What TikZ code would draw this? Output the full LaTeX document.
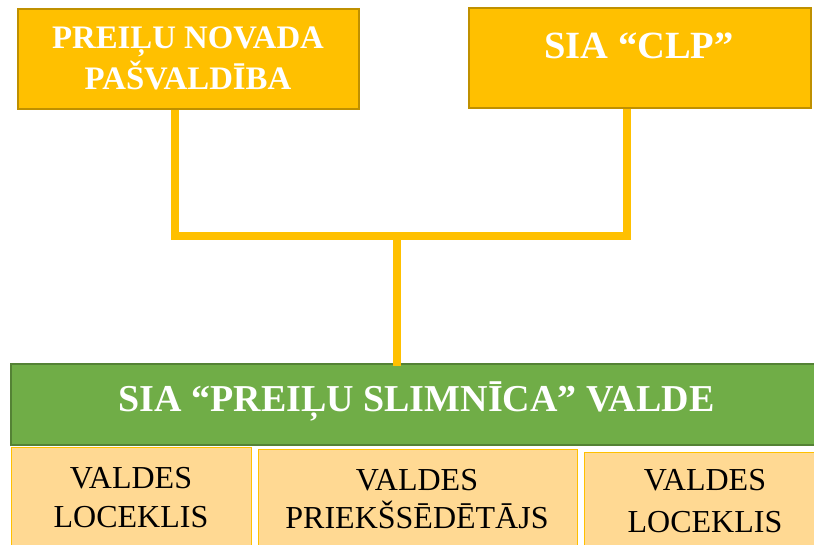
\documentclass[tikz,border=0pt]{standalone}
\usepackage{fontspec}
\setmainfont{Liberation Serif}
\definecolor{gold}{HTML}{FFC000}
\definecolor{golddark}{HTML}{BF9000}
\definecolor{grn}{HTML}{70AD47}
\definecolor{grndark}{HTML}{548235}
\definecolor{lightor}{HTML}{FFD993}
\tikzset{
  topbox/.style={draw=golddark, fill=gold, line width=1.5pt, minimum width=341pt, minimum height=100pt, inner sep=0pt, anchor=north west},
  greenbox/.style={draw=grndark, fill=grn, line width=2pt, anchor=north west, inner sep=0pt},
  lowbox/.style={draw=gold, fill=lightor, line width=1pt, anchor=north west, inner sep=0pt},
  conn/.style={draw=gold, line width=7.5pt},
  wtxt/.style={text=white, font=\bfseries, anchor=base, inner sep=0pt},
  btxt/.style={text=black, anchor=base, inner sep=0pt, font=\fontsize{32}{38}\selectfont},
}
\begin{document}
\begin{tikzpicture}[x=1pt,y=-1pt]
\useasboundingbox (0,0) rectangle (814,544);
\clip (0,0) rectangle (814,544);
\node[topbox, minimum width=341pt, minimum height=100pt] (tl) at (17,8) {};
\node[topbox, minimum width=342pt, minimum height=100pt] (tr) at (468,7) {};
\node[greenbox, minimum width=806pt, minimum height=81pt] (gv) at (10,363) {};
\node[lowbox, minimum width=240pt, minimum height=110pt] (b1) at (11,447) {};
\node[lowbox, minimum width=319pt, minimum height=110pt] (b2) at (258,449) {};
\node[lowbox, minimum width=240pt, minimum height=110pt] (b3) at (584,452) {};

\node[wtxt, font=\bfseries\fontsize{32.8}{41}\selectfont] (t1a) at (188,48) {PREIĻU NOVADA};
\node[wtxt, font=\bfseries\fontsize{32.8}{41}\selectfont] (t1b) at (188,89) {PAŠVALDĪBA};
\node[wtxt, font=\bfseries\fontsize{38.5}{44}\selectfont] (t2) at (639,58) {SIA “CLP”};
\node[wtxt, font=\bfseries\fontsize{38}{44}\selectfont] (t3) at (416.5,411) {SIA “PREIĻU SLIMNĪCA” VALDE};

\node[btxt] (l1a) at (131,488) {VALDES};
\node[btxt] (l1b) at (131,527) {LOCEKLIS};
\node[btxt] (l2a) at (417,490) {VALDES};
\node[btxt] (l2b) at (417,528) {PRIEKŠSĒDĒTĀJS};
\node[btxt] (l3a) at (705,490) {VALDES};
\node[btxt] (l3b) at (705,532) {LOCEKLIS};

\coordinate (jl) at (175,236);
\coordinate (jr) at (627,236);
\coordinate (jm) at (397,236);
\draw[conn] (tl.south -| jl) -- (jl) -- (jr) -- (tr.south -| jr);
\draw[conn] (jm) -- ([yshift=-3pt]gv.north -| jm);
\end{tikzpicture}
\end{document}
